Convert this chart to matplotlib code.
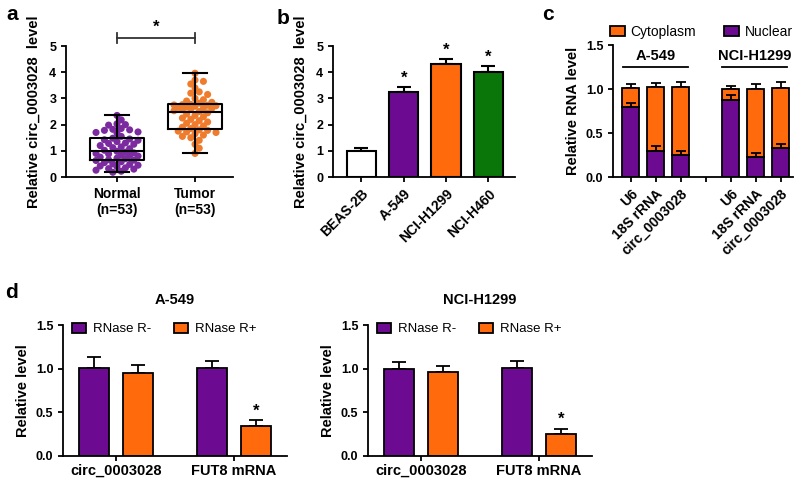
import numpy as np
import matplotlib
matplotlib.use('Agg')
import matplotlib.pyplot as plt
from matplotlib.patches import Patch

plt.rcParams['font.family'] = ['Liberation Sans', 'DejaVu Sans']
plt.rcParams['axes.linewidth'] = 1.3
plt.rcParams['xtick.major.width'] = 1.3
plt.rcParams['ytick.major.width'] = 1.3
plt.rcParams['xtick.major.size'] = 3.5
plt.rcParams['ytick.major.size'] = 3.5

PURPLE = '#6c0b92'
ORANGE = '#ff6a0d'
GREEN = '#0a760a'
PT_PURPLE = '#7b2aa0'
PT_ORANGE = '#ef7b2c'

# ---- panel a data ----
groups_a = ['Normal\n(n=53)', 'Tumor\n(n=53)']
normal = [2.35, 2.18, 2.03, 2.0, 1.98, 1.85, 1.82, 1.8, 1.78, 1.72, 1.7, 1.68, 1.55,
          1.48, 1.45, 1.42, 1.40, 1.35, 1.30, 1.28, 1.25, 1.20, 1.15, 1.12, 1.08, 1.02,
          0.98,
          0.95, 0.92, 0.90, 0.88, 0.85, 0.82, 0.80, 0.76, 0.72, 0.70, 0.66, 0.64, 0.63,
          0.58, 0.55, 0.50, 0.48, 0.45, 0.42, 0.40, 0.35, 0.32, 0.30, 0.26, 0.22, 0.18]
tumor = [3.96, 3.7, 3.65, 3.55, 3.4, 3.25, 3.2, 3.15, 3.0, 2.95, 2.9, 2.85, 2.82,
         2.77, 2.76, 2.75, 2.74, 2.72, 2.70, 2.68, 2.66, 2.64, 2.62, 2.60, 2.57, 2.53,
         2.5,
         2.45, 2.4, 2.35, 2.3, 2.25, 2.2, 2.15, 2.1, 2.05, 2.0, 1.95, 1.9, 1.85,
         1.8, 1.78, 1.75, 1.72, 1.7, 1.65, 1.6, 1.55, 1.5, 1.4, 1.25, 1.1, 0.9]

# ---- panel b ----
cells_b = ['BEAS-2B', 'A-549', 'NCI-H1299', 'NCI-H460']
level_b = [1.0, 3.23, 4.3, 4.02]
err_b = [0.1, 0.2, 0.2, 0.2]
colors_b = ['white', PURPLE, ORANGE, GREEN]

# ---- panel c ----
rna_c = ['U6', '18S rRNA', 'circ_0003028', '', 'U6', '18S rRNA', 'circ_0003028']
pos_c = [0, 1, 2, 4, 5, 6]
nuclear = [0.80, 0.30, 0.25, 0.88, 0.23, 0.33]
nuclear_err = [0.04, 0.05, 0.04, 0.05, 0.04, 0.05]
total = [1.01, 1.02, 1.02, 1.0, 1.0, 1.01]
total_err = [0.05, 0.05, 0.06, 0.03, 0.06, 0.07]

# ---- panel d ----
genes_d = ['circ_0003028', 'FUT8 mRNA']
a549_minus = [1.01, 1.01]
a549_minus_err = [0.12, 0.08]
a549_plus = [0.95, 0.34]
a549_plus_err = [0.09, 0.07]
h1299_minus = [1.0, 1.01]
h1299_minus_err = [0.08, 0.08]
h1299_plus = [0.96, 0.25]
h1299_plus_err = [0.07, 0.06]

fig = plt.figure(figsize=(8, 4.82), dpi=100)


def add_ax(l, r, t, b):
    ax = fig.add_axes([l / 800, 1 - b / 482, (r - l) / 800, (b - t) / 482])
    ax.spines['top'].set_visible(False)
    ax.spines['right'].set_visible(False)
    ax.tick_params(labelsize=9)
    return ax


def bold_ticks(ax):
    for lab in ax.get_xticklabels() + ax.get_yticklabels():
        lab.set_fontweight('bold')


def swarm(vals, d, sx, sy, maxw):
    # simple beeswarm in pixel units, kept inside +-maxw px, returns offsets in data units
    placed = []
    offs = np.zeros(len(vals))
    step = d * 0.6
    cands = [0.0]
    k = 1
    while k * step <= maxw:
        cands += [k * step, -k * step]
        k += 1
    for i in np.argsort(vals)[::-1]:
        y = vals[i] * sy
        best, best_gap = 0.0, -1
        for c in cands:
            gap = min([np.hypot(c - px, y - py) for px, py in placed] or [99])
            if gap >= d * 0.75:
                best = c
                break
            if gap > best_gap:
                best, best_gap = c, gap
        placed.append((best, y))
        offs[i] = best / sx
    return offs


# ---------------- panel a ----------------
ax = add_ax(66, 233, 46, 177)
ax.set_xlim(-0.654, 1.487)
ax.set_ylim(0, 5)
sx, sy = 78.0, 26.2
for i, (vals, col) in enumerate([(normal, PT_PURPLE), (tumor, PT_ORANGE)]):
    v = np.array(vals)
    ax.scatter(i + swarm(v, 7.0, sx, sy, 23), v, s=26, color=col, edgecolors='none',
               zorder=2, clip_on=False)
bp = ax.boxplot([normal, tumor], positions=[0, 1], widths=0.68, whis=(0, 100),
                showfliers=False, patch_artist=False, zorder=3,
                boxprops=dict(color='k', linewidth=1.5),
                whiskerprops=dict(color='k', linewidth=1.5),
                capprops=dict(color='k', linewidth=1.5),
                medianprops=dict(color='k', linewidth=1.5))
for cap in bp['caps']:
    m = cap.get_xdata().mean()
    cap.set_xdata([m - 0.16, m + 0.16])
ax.set_xticks([0, 1])
ax.set_xticklabels(groups_a, fontsize=10, fontweight='bold')
ax.set_yticks(range(6))
ax.set_ylabel('Relative circ_0003028  level', fontsize=10.5, fontweight='bold', labelpad=6)
ax.plot([0, 1], [5.32, 5.32], color='#333333', lw=1.3, clip_on=False)
ax.plot([0, 0], [5.12, 5.5], color='#333333', lw=1.3, clip_on=False)
ax.plot([1, 1], [5.12, 5.5], color='#333333', lw=1.3, clip_on=False)
ax.text(0.5, 5.42, '*', ha='center', va='bottom', fontsize=12, fontweight='bold')
bold_ticks(ax)

# ---------------- panel b ----------------
ax = add_ax(333, 515, 46, 177)
xb = np.arange(len(cells_b))
ax.bar(xb, level_b, width=0.69, color=colors_b, edgecolor='k', linewidth=1.5, zorder=2)
ax.errorbar(xb, level_b, yerr=[np.zeros(4), err_b], fmt='none', ecolor='k',
            elinewidth=1.5, capsize=5, capthick=1.5, zorder=1)
for i in range(1, 4):
    ax.text(xb[i], level_b[i] + err_b[i] + 0.05, '*', ha='center', va='bottom',
            fontsize=12, fontweight='bold')
ax.set_xlim(-0.67, 3.63)
ax.set_ylim(0, 5)
ax.set_yticks(range(6))
ax.set_xticks(xb)
ax.set_xticklabels(cells_b, rotation=45, ha='right', rotation_mode='anchor',
                   fontsize=10, fontweight='bold')
ax.set_ylabel('Relative circ_0003028  level', fontsize=10.5, fontweight='bold', labelpad=6)
bold_ticks(ax)

# ---------------- panel c ----------------
ax = add_ax(613, 793, 45, 177)
cyto = [t - n for t, n in zip(total, nuclear)]
ax.bar(pos_c, nuclear, width=0.68, color=PURPLE, edgecolor='k', linewidth=1.3, zorder=2)
ax.errorbar(pos_c, nuclear, yerr=[np.zeros(6), nuclear_err], fmt='none', ecolor='k',
            elinewidth=1.3, capsize=3.5, capthick=1.3, zorder=4)
ax.bar(pos_c, cyto, bottom=nuclear, width=0.68, color=ORANGE, edgecolor='k',
       linewidth=1.3, zorder=2)
ax.errorbar(pos_c, total, yerr=[np.zeros(6), total_err], fmt='none', ecolor='k',
            elinewidth=1.3, capsize=3.5, capthick=1.3, zorder=1)
ax.set_xlim(-0.7, 6.5)
ax.set_ylim(0, 1.5)
ax.set_yticks([0, 0.5, 1.0, 1.5])
ax.set_yticklabels(['0.0', '0.5', '1.0', '1.5'])
ax.set_xticks(range(7))
ax.set_xticklabels(rna_c, rotation=45, ha='right', rotation_mode='anchor',
                   fontsize=10, fontweight='bold')
ax.set_ylabel('Relative RNA level', fontsize=10.5, fontweight='bold', labelpad=4)
ax.plot([-0.3, 2.3], [1.25, 1.25], color='k', lw=1.3, clip_on=False)
ax.plot([3.66, 6.26], [1.25, 1.25], color='k', lw=1.3, clip_on=False)
ax.text(1, 1.3, 'A-549', ha='center', va='bottom', fontsize=10.5, fontweight='bold')
ax.text(4.96, 1.3, 'NCI-H1299', ha='center', va='bottom', fontsize=10.5, fontweight='bold')
ax.legend(handles=[Patch(facecolor=ORANGE, edgecolor='k', linewidth=1.3, label='Cytoplasm'),
                   Patch(facecolor=PURPLE, edgecolor='k', linewidth=1.3, label='Nuclear')],
          loc='center', bbox_to_anchor=(0.49, 1.1), ncol=2, frameon=False, fontsize=10,
          handlelength=1.1, handleheight=0.8, handletextpad=0.4, columnspacing=2.0,
          borderpad=0, borderaxespad=0)
bold_ticks(ax)


# ---------------- panel d ----------------
def panel_d(l, r, title, minus, minus_err, plus, plus_err):
    ax = add_ax(l, r, 325, 456)
    xg = np.arange(2)
    xm = xg - 0.19
    xp = xg + 0.19
    ax.bar(xm, minus, width=0.255, color=PURPLE, edgecolor='k', linewidth=1.3,
           zorder=2, label='RNase R-')
    ax.bar(xp, plus, width=0.255, color=ORANGE, edgecolor='k', linewidth=1.3,
           zorder=2, label='RNase R+')
    ax.errorbar(xm, minus, yerr=[np.zeros(2), minus_err], fmt='none', ecolor='k',
                elinewidth=1.3, capsize=5, capthick=1.3, zorder=1)
    ax.errorbar(xp, plus, yerr=[np.zeros(2), plus_err], fmt='none', ecolor='k',
                elinewidth=1.3, capsize=5, capthick=1.3, zorder=1)
    ax.text(xp[1], plus[1] + plus_err[1] + 0.02, '*', ha='center', va='bottom',
            fontsize=12, fontweight='bold')
    ax.set_xlim(-0.45, 1.45)
    ax.set_ylim(0, 1.5)
    ax.set_yticks([0, 0.5, 1.0, 1.5])
    ax.set_yticklabels(['0.0', '0.5', '1.0', '1.5'])
    ax.set_xticks(xg)
    ax.set_xticklabels(genes_d, fontsize=10.5, fontweight='bold')
    ax.tick_params(axis='x', pad=2)
    ax.set_ylabel('Relative level', fontsize=10.5, fontweight='bold', labelpad=4)
    ax.text(0.5, 1 + 25 / 131, title, transform=ax.transAxes, ha='center', va='center',
            fontsize=10.5, fontweight='bold')
    ax.legend(loc='center left', bbox_to_anchor=(0.04, 0.97), ncol=2, frameon=False,
              fontsize=9.5, handlelength=1.1, handleheight=0.8, handletextpad=0.5,
              columnspacing=1.7, borderpad=0, borderaxespad=0)
    bold_ticks(ax)
    return ax


panel_d(63, 287, 'A-549', a549_minus, a549_minus_err, a549_plus, a549_plus_err)
panel_d(368, 592, 'NCI-H1299', h1299_minus, h1299_minus_err, h1299_plus, h1299_plus_err)

for letter, px, py in [('a', 12, 15), ('b', 283, 18), ('c', 548, 15), ('d', 12, 292)]:
    fig.text(px / 800, 1 - py / 482, letter, fontsize=15, fontweight='bold',
             ha='center', va='center')

fig.savefig('out.png', dpi=100)
